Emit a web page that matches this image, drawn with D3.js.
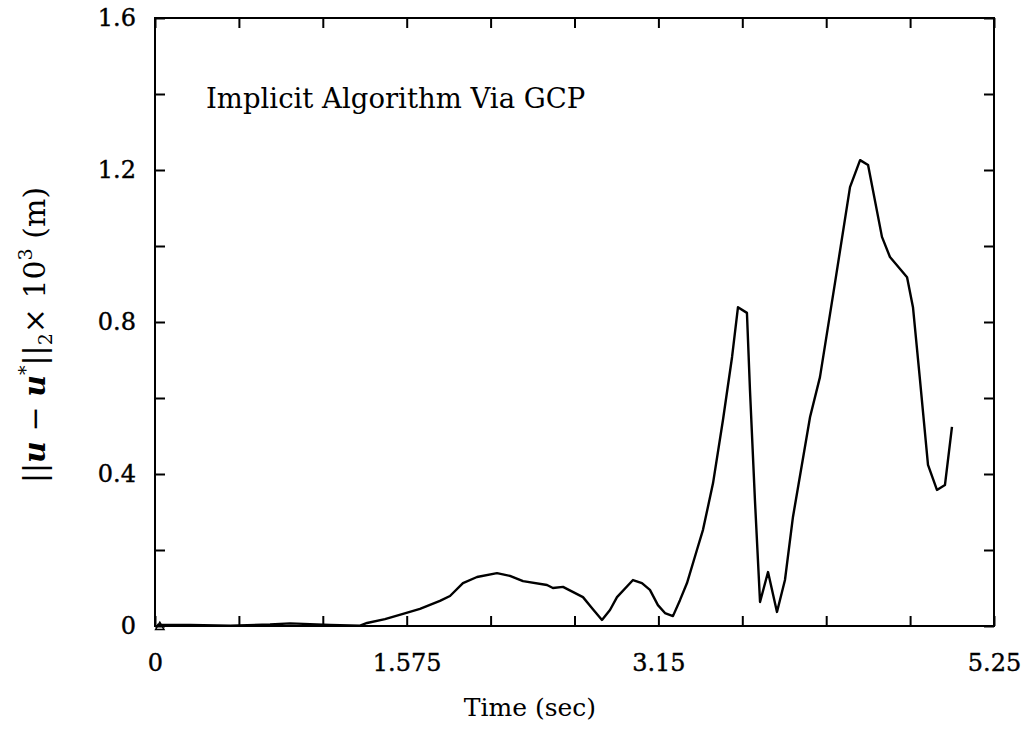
<!DOCTYPE html>
<html lang='en'>
  <head>
    <meta charset="utf-8">
    <style>
      body { margin: 0; background: #ffffff; }
      text { font-family: "DejaVu Serif", serif; fill: #000000; }
    </style>
    <title>Implicit Algorithm Via GCP</title>
    <script src="https://d3js.org/d3.v7.min.js"></script>
  </head>
  <body>
    <div id="chart"></div>
  <script>

    // curve: time (sec) and norm (x 10^3 m)
    var timeVals = [0.013, 0.22, 0.47, 0.72, 0.845, 0.97, 1.095, 1.283, 1.327, 1.439, 1.552, 1.658,
                    1.783, 1.846, 1.927, 2.015, 2.140, 2.221, 2.303, 2.453, 2.490, 2.553, 2.678, 2.735,
                    2.797, 2.847, 2.891, 2.991, 3.047, 3.097, 3.147, 3.191, 3.241, 3.285, 3.329, 3.391,
                    3.429, 3.492, 3.554, 3.611, 3.648, 3.704, 3.723, 3.754, 3.786, 3.836, 3.892, 3.942,
                    3.992, 4.099, 4.161, 4.255, 4.349, 4.412, 4.462, 4.549, 4.599, 4.706, 4.743, 4.787,
                    4.837, 4.893, 4.943, 4.987];
    var normVals = [0.003, 0.003, 0.001, 0.004, 0.007, 0.005, 0.003, 0.001, 0.008, 0.018, 0.032, 0.045,
                    0.066, 0.079, 0.113, 0.129, 0.139, 0.132, 0.118, 0.108, 0.100, 0.103, 0.076, 0.047,
                    0.016, 0.042, 0.076, 0.121, 0.113, 0.095, 0.055, 0.034, 0.026, 0.068, 0.113, 0.200,
                    0.253, 0.376, 0.542, 0.708, 0.839, 0.824, 0.621, 0.332, 0.063, 0.142, 0.037, 0.121,
                    0.287, 0.550, 0.655, 0.903, 1.155, 1.226, 1.213, 1.024, 0.971, 0.918, 0.839, 0.647,
                    0.424, 0.358, 0.371, 0.524];

    var xMinorTicks = d3.range(0, 11).map(function(i) { return i * 0.525; });
    var xLabelTicks = [0, 1.575, 3.15, 5.25];
    var xLabelText = ["0", "1.575", "3.15", "5.25"];
    var yMinorTicks = [0, 0.2, 0.4, 0.6, 0.8, 1.0, 1.2, 1.4, 1.6];
    var yLabelTicks = [0, 0.4, 0.8, 1.2, 1.6];
    var yLabelText = ["0", "0.4", "0.8", "1.2", "1.6"];

    var W = 1028, H = 749;
    var plotL = 155, plotR = 994, plotT = 18, plotB = 626;

    var svg = d3.select("#chart")
      .append("svg")
        .attr("width", W)
        .attr("height", H);

    var x = d3.scaleLinear().domain([0, 5.25]).range([plotL, plotR]);
    var y = d3.scaleLinear().domain([0, 1.6]).range([plotB, plotT]);

    // inward ticks on all four sides
    function tickStyle(g) {
      g.select(".domain").remove();
      g.selectAll(".tick line").attr("stroke", "#000").attr("stroke-width", 2);
      g.selectAll(".tick text").remove();
    }
    svg.append("g").attr("transform", "translate(0," + plotB + ")")
      .call(d3.axisBottom(x).tickValues(xMinorTicks).tickSize(-10)).call(tickStyle);
    svg.append("g").attr("transform", "translate(0," + plotT + ")")
      .call(d3.axisTop(x).tickValues(xMinorTicks).tickSize(-10)).call(tickStyle);
    svg.append("g").attr("transform", "translate(" + plotL + ",0)")
      .call(d3.axisLeft(y).tickValues(yMinorTicks).tickSize(-10)).call(tickStyle);
    svg.append("g").attr("transform", "translate(" + plotR + ",0)")
      .call(d3.axisRight(y).tickValues(yMinorTicks).tickSize(-10)).call(tickStyle);

    // tick labels
    var xl = svg.append("g").attr("transform", "translate(0," + plotB + ")")
      .call(d3.axisBottom(x).tickValues(xLabelTicks).tickSize(0).tickPadding(28)
        .tickFormat(function(d, i) { return xLabelText[i]; }));
    xl.select(".domain").remove();
    xl.selectAll("text").attr("font-size", 24).attr("font-family", "DejaVu Serif")
      .attr("fill", "#000").attr("stroke", "#000").attr("stroke-width", 0.4);

    var yl = svg.append("g").attr("transform", "translate(" + plotL + ",0)")
      .call(d3.axisLeft(y).tickValues(yLabelTicks).tickSize(0).tickPadding(19)
        .tickFormat(function(d, i) { return yLabelText[i]; }));
    yl.select(".domain").remove();
    yl.selectAll("text").attr("font-size", 24).attr("font-family", "DejaVu Serif")
      .attr("fill", "#000").attr("stroke", "#000").attr("stroke-width", 0.4);

    // frame
    svg.append("rect")
      .attr("x", plotL).attr("y", plotT)
      .attr("width", plotR - plotL).attr("height", plotB - plotT)
      .attr("fill", "none").attr("stroke", "#000").attr("stroke-width", 2);

    // the curve
    var pts = timeVals.map(function(t, i) { return [t, normVals[i]]; });
    var line = d3.line()
      .x(function(d) { return x(d[0]); })
      .y(function(d) { return y(d[1]); });
    svg.append("path")
      .attr("d", line(pts))
      .attr("fill", "none")
      .attr("stroke", "#000")
      .attr("stroke-width", 2.4)
      .attr("stroke-linejoin", "round");

    // small marker at the origin
    svg.append("path")
      .attr("d", d3.symbol(d3.symbolTriangle, 30)())
      .attr("transform", "translate(" + x(0.03) + "," + (y(0) + 1) + ")")
      .attr("fill", "none").attr("stroke", "#000").attr("stroke-width", 1.5);

    // annotation
    svg.append("text")
      .attr("x", 206).attr("y", 108)
      .attr("font-size", 27.5)
      .text("Implicit Algorithm Via GCP");

    // axis titles
    svg.append("text")
      .attr("x", 530).attr("y", 716)
      .attr("text-anchor", "middle")
      .attr("font-size", 25)
      .text("Time (sec)");

    var yt = svg.append("text")
      .attr("transform", "translate(45,335) rotate(-90)")
      .attr("text-anchor", "middle")
      .attr("font-size", 30);
    yt.append("tspan").text("||");
    yt.append("tspan").attr("font-weight", "bold").attr("font-style", "italic").text("u");
    yt.append("tspan").text(" \u2212 ");
    yt.append("tspan").attr("font-weight", "bold").attr("font-style", "italic").text("u");
    yt.append("tspan").attr("font-size", 19).attr("dy", -13).text("*");
    yt.append("tspan").attr("dy", 13).text("||");
    yt.append("tspan").attr("font-size", 19).attr("dy", 7).text("2");
    yt.append("tspan").attr("dy", -7).text("\u00d7 10");
    yt.append("tspan").attr("font-size", 19).attr("dy", -13).text("3");
    yt.append("tspan").attr("dy", 13).text(" (m)");

  </script>
  </body>
</html>
